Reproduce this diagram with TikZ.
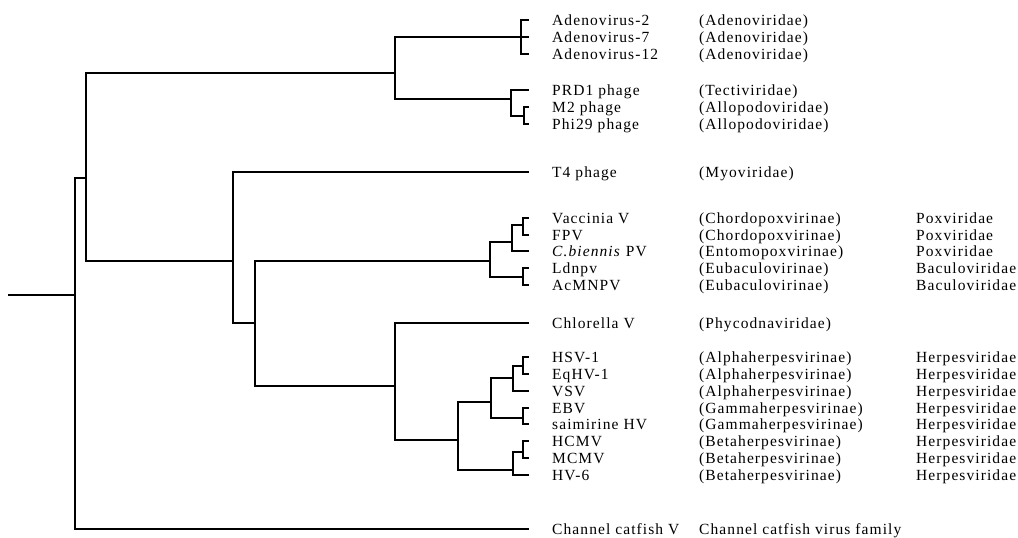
\documentclass[tikz,border=0pt]{standalone}
\usepackage{fontspec}
\setmainfont{Liberation Serif}[LetterSpace=7]
\begin{document}
\begin{tikzpicture}[x=1pt,y=-1pt,
  branch/.style={draw=black,line width=1.2pt},
  lbl/.style={anchor=base west,inner sep=0pt,font=\fontsize{15.5}{18}\selectfont}]
\useasboundingbox (0,0) rectangle (1018,538);
% leaf tips
\foreach \n/\y in {a2/20,a7/37,a12/54,prd/90,m2/107,phi/124,t4/172,vac/218,fpv/235,cb/251,ld/268,ac/285,chl/323,hsv/357,eq/374,vsv/391,ebv/408,sai/424,hcmv/441,mcmv/458,hv6/475,cc/529}
  \coordinate (t-\n) at (529,\y);
% internal nodes
\coordinate (stub) at (8,295);
\coordinate (root) at (75,295);
\coordinate (up) at (86,178);
\coordinate (top) at (395,73);
\coordinate (adn) at (521,37);
\coordinate (prdg) at (511,99);
\coordinate (mphi) at (524,116);
\coordinate (n233) at (233,261);
\coordinate (mid) at (255,323);
\coordinate (pb) at (490,261);
\coordinate (pox) at (512,242);
\coordinate (vf) at (523,225);
\coordinate (bac) at (523,277);
\coordinate (ch) at (395,386);
\coordinate (herp) at (458,440);
\coordinate (ag) at (491,402);
\coordinate (alpha) at (513,378);
\coordinate (he) at (523,366);
\coordinate (gam) at (523,418);
\coordinate (beta) at (513,470);
\coordinate (hm) at (523,452);
% branches
\draw[branch] (stub) -- (root);
\draw[branch] (root) |- (up); \draw[branch] (root) |- (t-cc);
\draw[branch] (up) |- (top); \draw[branch] (up) |- (n233);
\draw[branch] (top) |- (adn); \draw[branch] (top) |- (prdg);
\draw[branch] (adn) |- (t-a2); \draw[branch] (adn) |- (t-a7); \draw[branch] (adn) |- (t-a12);
\draw[branch] (prdg) |- (t-prd); \draw[branch] (prdg) |- (mphi);
\draw[branch] (mphi) |- (t-m2); \draw[branch] (mphi) |- (t-phi);
\draw[branch] (n233) |- (t-t4); \draw[branch] (n233) |- (mid);
\draw[branch] (mid) |- (pb); \draw[branch] (mid) |- (ch);
\draw[branch] (pb) |- (pox); \draw[branch] (pb) |- (bac);
\draw[branch] (pox) |- (vf); \draw[branch] (pox) |- (t-cb);
\draw[branch] (vf) |- (t-vac); \draw[branch] (vf) |- (t-fpv);
\draw[branch] (bac) |- (t-ld); \draw[branch] (bac) |- (t-ac);
\draw[branch] (ch) |- (t-chl); \draw[branch] (ch) |- (herp);
\draw[branch] (herp) |- (ag); \draw[branch] (herp) |- (beta);
\draw[branch] (ag) |- (alpha); \draw[branch] (ag) |- (gam);
\draw[branch] (alpha) |- (he); \draw[branch] (alpha) |- (t-vsv);
\draw[branch] (he) |- (t-hsv); \draw[branch] (he) |- (t-eq);
\draw[branch] (gam) |- (t-ebv); \draw[branch] (gam) |- (t-sai);
\draw[branch] (beta) |- (hm); \draw[branch] (beta) |- (t-hv6);
\draw[branch] (hm) |- (t-hcmv); \draw[branch] (hm) |- (t-mcmv);
% labels
\foreach \n/\y/\a/\b/\c in {
  a2/20/Adenovirus-2/(Adenoviridae)/,
  a7/37/Adenovirus-7/(Adenoviridae)/,
  a12/54/Adenovirus-12/(Adenoviridae)/,
  prd/90/PRD1 phage/(Tectiviridae)/,
  m2/107/M2 phage/(Allopodoviridae)/,
  phi/124/Phi29 phage/(Allopodoviridae)/,
  t4/172/T4 phage/(Myoviridae)/,
  vac/218/Vaccinia V/(Chordopoxvirinae)/Poxviridae,
  fpv/235/FPV/(Chordopoxvirinae)/Poxviridae,
  cb/251/\textit{C.biennis} PV/(Entomopoxvirinae)/Poxviridae,
  ld/268/Ldnpv/(Eubaculovirinae)/Baculoviridae,
  ac/285/AcMNPV/(Eubaculovirinae)/Baculoviridae,
  chl/323/Chlorella V/(Phycodnaviridae)/,
  hsv/357/HSV-1/(Alphaherpesvirinae)/Herpesviridae,
  eq/374/EqHV-1/(Alphaherpesvirinae)/Herpesviridae,
  vsv/391/VSV/(Alphaherpesvirinae)/Herpesviridae,
  ebv/408/EBV/(Gammaherpesvirinae)/Herpesviridae,
  sai/424/saimirine HV/(Gammaherpesvirinae)/Herpesviridae,
  hcmv/441/HCMV/(Betaherpesvirinae)/Herpesviridae,
  mcmv/458/MCMV/(Betaherpesvirinae)/Herpesviridae,
  hv6/475/HV-6/(Betaherpesvirinae)/Herpesviridae,
  cc/529/Channel catfish V/Channel catfish virus family/}
{
  \node[lbl] (n-\n) at (552,\y+5) {\a};
  \node[lbl] (s-\n) at (699,\y+5) {\b};
  \node[lbl] (f-\n) at (916,\y+5) {\c};
}
\end{tikzpicture}
\end{document}
